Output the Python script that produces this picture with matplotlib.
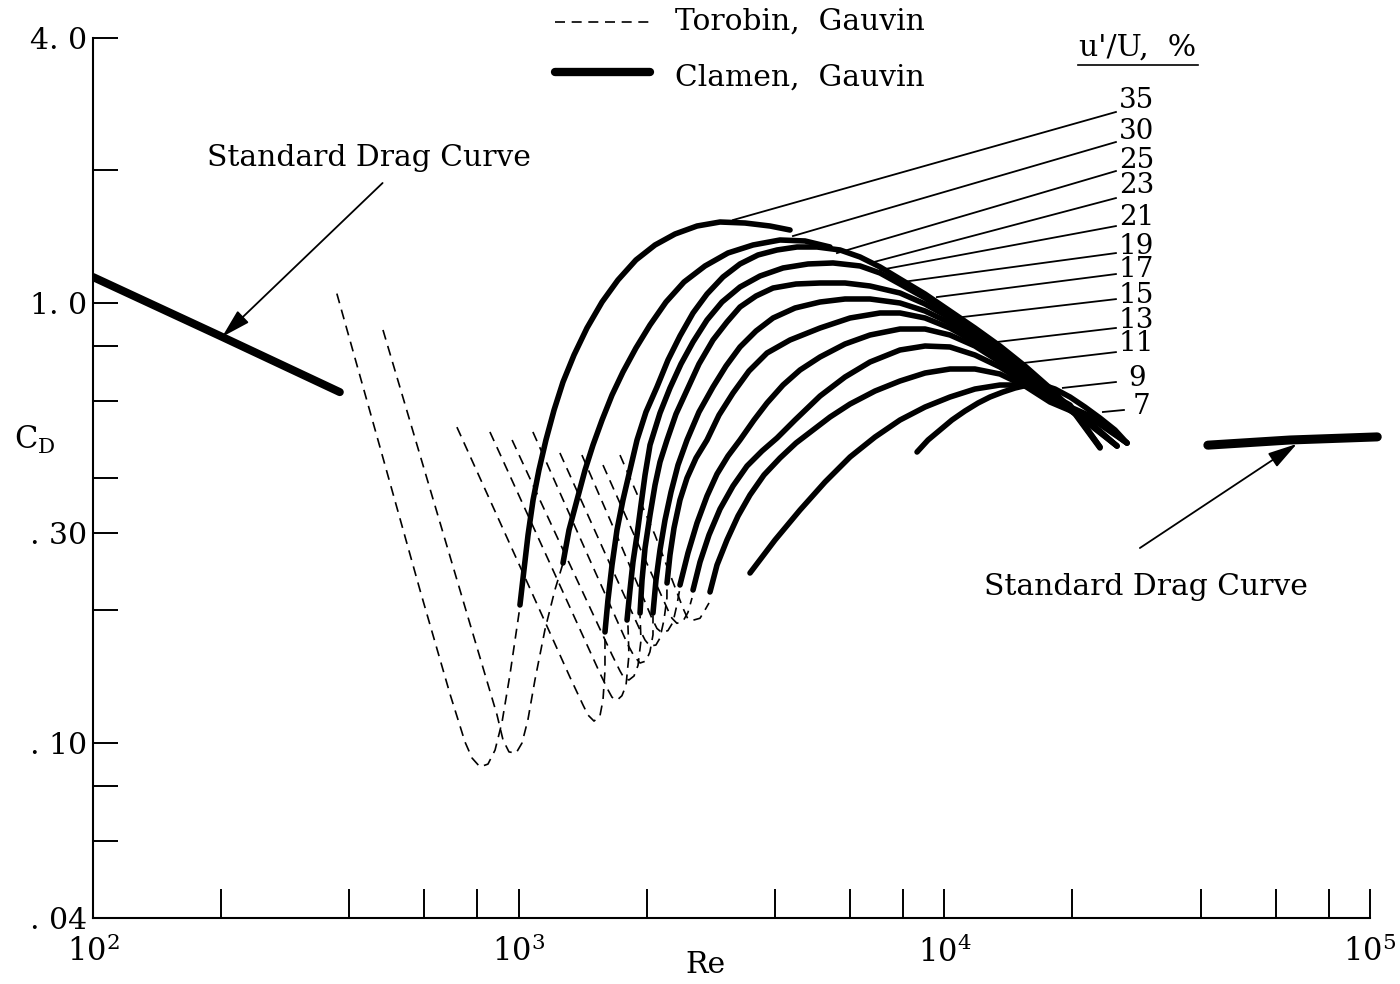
import numpy as np
import matplotlib.pyplot as plt
from matplotlib.lines import Line2D
from matplotlib.ticker import NullLocator

plt.rcParams['font.family'] = ['DejaVu Serif']
plt.rcParams['mathtext.fontset'] = 'dejavuserif'

# standard drag curve (two pieces)
std_low_re = [100, 199, 380]
std_low_cd = [1.145, 0.841, 0.627]
std_high_re = [41600, 64800, 104000]
std_high_cd = [0.475, 0.488, 0.496]

# Torobin & Gauvin (dashed)
torobin_re = [
    [374, 472, 586, 690, 748, 777, 811, 847, 880, 914, 954, 1007],
    [480, 619, 769, 889, 919, 949, 986, 1018, 1051, 1092, 1153, 1217, 1271],
    [716, 1007, 1320, 1416, 1455, 1503, 1552, 1578, 1595, 1595],
    [856, 1184, 1552, 1621, 1657, 1702, 1748, 1787, 1816, 1806],
    [965, 1320, 1657, 1730, 1768, 1816, 1866, 1907, 1938, 1928],
    [1080, 1471, 1806, 1866, 1928, 1991, 2034, 2068, 2068],
    [1250, 1595, 1928, 1981, 2034, 2101, 2147, 2194, 2230, 2230],
    [1408, 1730, 2056, 2113, 2171, 2242, 2304, 2354, 2393],
    [1578, 1928, 2242, 2292, 2354, 2432, 2499, 2554],
    [1730, 2090, 2432, 2499, 2567, 2667, 2740, 2800],
]
torobin_cd = [
    [1.05, 0.471, 0.223, 0.129, 0.1005, 0.0924, 0.0882, 0.0895, 0.0963, 0.1115, 0.143, 0.204],
    [0.868, 0.378, 0.186, 0.116, 0.1015, 0.0954, 0.0948, 0.0999, 0.1127, 0.139, 0.181, 0.223, 0.256],
    [0.522, 0.252, 0.141, 0.122, 0.1157, 0.1121, 0.1151, 0.1252, 0.146, 0.179],
    [0.509, 0.256, 0.144, 0.132, 0.127, 0.125, 0.128, 0.135, 0.1585, 0.185],
    [0.488, 0.254, 0.1585, 0.1457, 0.1405, 0.139, 0.1419, 0.150, 0.171, 0.195],
    [0.509, 0.260, 0.167, 0.1576, 0.1519, 0.1535, 0.161, 0.176, 0.195],
    [0.456, 0.270, 0.1805, 0.1713, 0.166, 0.1669, 0.173, 0.190, 0.2135, 0.2285],
    [0.451, 0.285, 0.192, 0.182, 0.178, 0.180, 0.188, 0.206, 0.225],
    [0.428, 0.277, 0.2005, 0.192, 0.187, 0.189, 0.198, 0.2135],
    [0.451, 0.297, 0.2025, 0.191, 0.190, 0.192, 0.2005, 0.208],
]

# Clamen & Gauvin (solid), u'/U = 35 ... 7 %
clamen_re = [
    [1007, 1029, 1052, 1081, 1116, 1159, 1211, 1271, 1349, 1447, 1570, 1711,
     1886, 2091, 2330, 2624, 2972, 3402, 3895, 4340],
    [1271, 1313, 1371, 1432, 1495, 1570, 1657, 1758, 1886, 2035, 2219, 2446,
     2740, 3103, 3553, 4111, 4707, 5389],
    [1595, 1621, 1657, 1702, 1758, 1826, 1897, 1991, 2113, 2243, 2393, 2568,
     2770, 3020, 3311, 3650, 4045, 4507, 5022, 5688, 6338, 7062, 7867, 9009,
     10310, 11800, 13510, 15470, 17710, 20280, 23210],
    [1797, 1826, 1856, 1897, 1938, 1981, 2035, 2148, 2267, 2406, 2568, 2770,
     3004, 3311, 3690, 4179, 4784, 5477, 6338, 7062, 7867, 9009, 10310, 11800,
     13510, 15470, 17710, 20280, 23210],
    [1928, 1949, 1981, 2035, 2091, 2148, 2231, 2342, 2486, 2652, 2861, 3086,
     3311, 3611, 3959, 4483, 5105, 5844, 6690, 7867, 9009, 10310, 11800, 13510,
     15470, 17710, 21400, 25450],
    [2068, 2102, 2148, 2207, 2280, 2368, 2486, 2652, 2861, 3070, 3311, 3611,
     3959, 4459, 5105, 5844, 6690, 7867, 9009, 10310, 11800, 13510, 15470,
     17710, 21400, 25450],
    [2231, 2267, 2317, 2393, 2486, 2610, 2770, 2956, 3188, 3476, 3832, 4340,
     5105, 6005, 7062, 7867, 9009, 10310, 11800, 13510, 15470, 17710, 21400,
     25450],
    [2393, 2499, 2624, 2770, 2924, 3103, 3311, 3572, 3832, 4179, 4581, 5105,
     5844, 6690, 7867, 9009, 10310, 11800, 13510, 15470, 17710, 22590, 26860],
    [2568, 2667, 2800, 2972, 3188, 3439, 3730, 4045, 4459, 5105, 5844, 6690,
     7867, 9009, 10310, 11800, 13510, 15470, 17710, 22590, 26860],
    [2815, 2924, 3086, 3276, 3495, 3770, 4111, 4483, 4915, 5389, 6005, 6874,
     7867, 9009, 10310, 11800, 13510, 15470, 17710, 22590, 26860],
    [3495, 4002, 4581, 5245, 6005, 6874, 7867, 9009, 10310, 11800, 13510,
     15060, 16780, 19740, 23210],
    [8627, 9156, 9768, 10420, 11180, 12000, 12800, 13730, 14660, 15720, 16780,
     18200, 19740, 21400, 23210, 25180, 26860],
]
clamen_cd = [
    [0.2058, 0.2471, 0.2969, 0.3565, 0.4171, 0.4880, 0.5709, 0.6610, 0.7614,
     0.8769, 1.0047, 1.1273, 1.2519, 1.3541, 1.4342, 1.4954, 1.5271, 1.5191,
     1.4954, 1.4645],
    [0.2564, 0.3047, 0.3565, 0.4171, 0.4754, 0.5418, 0.6175, 0.6966, 0.7898,
     0.8909, 1.0047, 1.1156, 1.2133, 1.2986, 1.3541, 1.3899, 1.3827, 1.3399],
    [0.1787, 0.2113, 0.2537, 0.3047, 0.3565, 0.4171, 0.4880, 0.5649, 0.6440,
     0.7417, 0.8410, 0.9486, 1.0477, 1.1452, 1.2260, 1.2851, 1.3191, 1.3399,
     1.3399, 1.3191, 1.2717, 1.2070, 1.1333, 1.0477, 0.9585, 0.8769, 0.7981,
     0.7188, 0.6406, 0.5620, 0.4705],
    [0.1902, 0.2226, 0.2577, 0.2969, 0.3473, 0.4064, 0.4754, 0.5620, 0.6406,
     0.7263, 0.8150, 0.9145, 1.0047, 1.0868, 1.1512, 1.2006, 1.2260, 1.2325,
     1.2133, 1.1694, 1.1040, 1.0260, 0.9436, 0.8633, 0.7857, 0.7076, 0.6339,
     0.5590, 0.4680],
    [0.1973, 0.2345, 0.2773, 0.3296, 0.3856, 0.4350, 0.4880, 0.5590, 0.6339,
     0.7263, 0.8236, 0.9050, 0.9788, 1.0368, 1.0811, 1.1040, 1.1098, 1.1098,
     1.0925, 1.0532, 0.9943, 0.9241, 0.8498, 0.7734, 0.7002, 0.6240, 0.5475,
     0.4729],
    [0.1973, 0.2345, 0.2745, 0.3210, 0.3717, 0.4282, 0.4880, 0.5649, 0.6440,
     0.7188, 0.7940, 0.8633, 0.9241, 0.9737, 1.0047, 1.0207, 1.0207, 0.9995,
     0.9585, 0.9003, 0.8322, 0.7614, 0.6893, 0.6175, 0.5418, 0.4729],
    [0.2309, 0.2674, 0.3079, 0.3565, 0.4000, 0.4441, 0.4880, 0.5561, 0.6240,
     0.7002, 0.7694, 0.8236, 0.8769, 0.9241, 0.9486, 0.9486, 0.9241, 0.8769,
     0.8150, 0.7495, 0.6821, 0.6143, 0.5390, 0.4729],
    [0.2285, 0.2702, 0.3161, 0.3640, 0.4085, 0.4488, 0.4880, 0.5418, 0.5922,
     0.6507, 0.7039, 0.7535, 0.8065, 0.8454, 0.8723, 0.8723, 0.8454, 0.7981,
     0.7340, 0.6715, 0.6079, 0.5475, 0.4804],
    [0.2226, 0.2577, 0.2969, 0.3401, 0.3836, 0.4259, 0.4607, 0.4931, 0.5418,
     0.6143, 0.6786, 0.7340, 0.7816, 0.7981, 0.7940, 0.7614, 0.7150, 0.6576,
     0.6016, 0.5446, 0.4804],
    [0.2203, 0.2537, 0.2892, 0.3279, 0.3660, 0.4064, 0.4441, 0.4804, 0.5142,
     0.5504, 0.5891, 0.6306, 0.6645, 0.6929, 0.7076, 0.7076, 0.6893, 0.6473,
     0.5953, 0.5390, 0.4804],
    [0.2433, 0.2892, 0.3383, 0.3917, 0.4465, 0.4957, 0.5418, 0.5799, 0.6111,
     0.6372, 0.6507, 0.6507, 0.6406, 0.5860, 0.4705],
    [0.4583, 0.4880, 0.5142, 0.5418, 0.5679, 0.5922, 0.6111, 0.6273, 0.6406,
     0.6507, 0.6541, 0.6372, 0.6111, 0.5799, 0.5475, 0.5142, 0.4804],
]

# turbulence labels and their leader lines
intensity = ['35', '30', '25', '23', '21', '19', '17', '15', '13', '11', '9', '7']
leader_re0 = [3188, 4409, 5594, 6688, 7058, 7990, 9607, 11060, 13290, 15300, 18990, 23580]
leader_cd0 = [1.543, 1.419, 1.298, 1.232, 1.188, 1.116, 1.031, 0.929, 0.815, 0.730, 0.641, 0.565]
leader_re1 = [25300, 25300, 25300, 25300, 25300, 25300, 25300, 25300, 25300, 25300, 25300, 26420]
leader_cd1 = [2.716, 2.321, 1.994, 1.731, 1.495, 1.298, 1.163, 1.020, 0.877, 0.773, 0.661, 0.571]
label_re = [25700, 25700, 25700, 25700, 25700, 25700, 25700, 25700, 25700, 25700, 27000, 27750]
label_cd = [2.891, 2.446, 2.112, 1.853, 1.567, 1.340, 1.188, 1.042, 0.914, 0.8105, 0.675, 0.583]

xticks = [100, 200, 400, 600, 800, 1000, 2000, 4000, 6000, 8000,
          10000, 20000, 40000, 60000, 80000, 100000]
xticklabels = [r'$10^2$', '', '', '', '', r'$10^3$', '', '', '', '',
               r'$10^4$', '', '', '', '', r'$10^5$']
yticks = [4.0, 2.0, 1.0, 0.8, 0.6, 0.4, 0.3, 0.2, 0.1, 0.08, 0.06, 0.04]
yticklabels = ['4. 0', '', '1. 0', '', '', '', '. 30', '', '. 10', '', '', '. 04']

fig = plt.figure(figsize=(14, 9.84), dpi=100)
ax = fig.add_axes([93 / 1400, 1 - 918 / 984, 1277 / 1400, 880 / 984])
ax.set_xscale('log')
ax.set_yscale('log')
ax.set_xlim(100, 1e5)
ax.set_ylim(0.04, 4.0)

for re, cd in zip(torobin_re, torobin_cd):
    ax.plot(re, cd, color='black', lw=1.2, ls=(0, (6, 4)))

for re, cd in zip(clamen_re, clamen_cd):
    ax.plot(re, cd, color='black', lw=4.0, solid_capstyle='round',
            solid_joinstyle='round')

ax.plot(std_low_re, std_low_cd, color='black', lw=5.8, solid_capstyle='round')
ax.plot(std_high_re, std_high_cd, color='black', lw=6.5, solid_capstyle='round',
        clip_on=False)

for i, lab in enumerate(intensity):
    ax.plot([leader_re0[i], leader_re1[i]], [leader_cd0[i], leader_cd1[i]],
            color='black', lw=1.3)
    ax.text(label_re[i], label_cd[i], lab, fontsize=20, ha='left', va='center')

# Standard drag curve annotations
arrow = dict(arrowstyle='-|>,head_length=0.9,head_width=0.25', color='black',
             lw=1.3, shrinkA=0, shrinkB=0, mutation_scale=20)
ax.text(445, 2.135, 'Standard Drag Curve', fontsize=21.4, ha='center', va='center')
ax.annotate('', xy=(201, 0.837), xytext=(479, 1.873), arrowprops=arrow)
ax.text(29750, 0.226, 'Standard Drag Curve', fontsize=21.4, ha='center', va='center')
ax.annotate('', xy=(67300, 0.478), xytext=(28800, 0.2773), arrowprops=arrow)

# axes styling
for s in ['top', 'right']:
    ax.spines[s].set_visible(False)
for s in ['left', 'bottom']:
    ax.spines[s].set_linewidth(1.5)
ax.set_xticks(xticks, labels=xticklabels)
ax.set_yticks(yticks, labels=yticklabels)
ax.xaxis.set_minor_locator(NullLocator())
ax.yaxis.set_minor_locator(NullLocator())
ax.tick_params(axis='x', direction='in', length=21, width=1.4, pad=13, labelsize=22)
ax.tick_params(axis='y', direction='in', length=18, width=1.4, pad=4, labelsize=21.5)

fig.text(705 / 1400, 1 - 965 / 984, 'Re', fontsize=21.5, ha='center', va='center')
fig.text(35 / 1400, 1 - 440 / 984, r'$\mathregular{C_D}$', fontsize=22,
         ha='center', va='center')

# legend
fig.add_artist(Line2D([555 / 1400, 650 / 1400], [1 - 22 / 984] * 2,
                      transform=fig.transFigure, color='black', lw=1.2,
                      ls=(0, (6, 4))))
fig.add_artist(Line2D([555 / 1400, 650 / 1400], [1 - 72 / 984] * 2,
                      transform=fig.transFigure, color='black', lw=6.0,
                      solid_capstyle='round'))
fig.text(675 / 1400, 1 - 22 / 984, 'Torobin,  Gauvin', fontsize=21.4, va='center')
fig.text(675 / 1400, 1 - 78 / 984, 'Clamen,  Gauvin', fontsize=21.4, va='center')
fig.text(1138 / 1400, 1 - 48 / 984, "u'/U,  %", fontsize=21.5, ha='center',
         va='center')
fig.add_artist(Line2D([1078 / 1400, 1198 / 1400], [1 - 65 / 984] * 2,
                      transform=fig.transFigure, color='black', lw=1.2))

fig.savefig('out.png', dpi=100)
